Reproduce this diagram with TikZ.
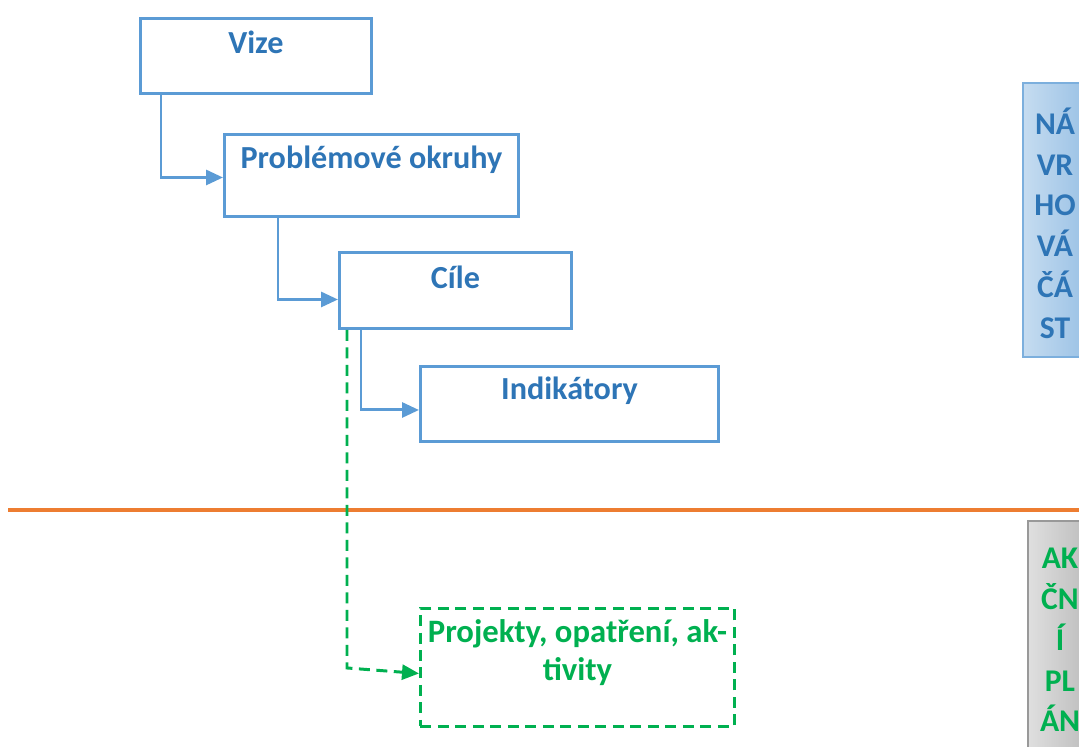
\documentclass[tikz,border=0pt]{standalone}
\usepackage{fontspec}
\setmainfont{Carlito}
\usetikzlibrary{positioning, calc, arrows.meta}
\definecolor{bordoblu}{HTML}{5B9BD5}
\definecolor{testoblu}{HTML}{2E75B6}
\definecolor{verde}{HTML}{00B050}
\definecolor{arancio}{HTML}{ED7D31}
\tikzset{
    scatola/.style={draw=bordoblu,line width=1.7pt,rectangle,anchor=north west,inner sep=0pt},
    testo/.style={font=\fontsize{18.3}{20}\selectfont\bfseries,text=testoblu},
    punta/.style={-{Triangle[length=0.34cm,width=0.3cm]}},
    freccia/.style={draw=bordoblu,line width=1.7pt,punta},
    tratt/.style={draw=verde,line width=1.7pt,dash pattern=on 0.22cm off 0.13cm},
}
\begin{document}
\begin{tikzpicture}[x=0.02cm,y=-0.02cm]
        \useasboundingbox (0,0) rectangle (1079,747);
        %disegno scatole parte proposta
        \node[scatola,minimum width=4.62cm,minimum height=1.5cm] (vize) at (139,17) {};
        \node[scatola,minimum width=5.88cm,minimum height=1.64cm] (probl) at (223,133) {};
        \node[scatola,minimum width=4.64cm,minimum height=1.52cm] (cile) at (338,251) {};
        \node[scatola,minimum width=5.96cm,minimum height=1.5cm] (indik) at (419,365) {};
        \node[testo] (vizet) at ($(vize.north)+(0,25)$) {Vize};
        \node[testo] (problt) at ($(probl.north)+(0,27)$) {Problémové okruhy};
        \node[testo] (cilet) at ($(cile.north)+(0,26)$) {Cíle};
        \node[testo] (indikt) at ($(indik.north)+(0,26)$) {Indikátory};
        %frecce
        \draw[freccia] ($(vize.south west)+(22,0)$) |- ($(probl.west)+(0,2)$);
        \draw[freccia] ($(probl.south west)+(55,0)$) |- ($(cile.west)+(0,9)$);
        \draw[freccia] ($(cile.south west)+(23,0)$) |- ($(indik.west)+(0,6)$);
        %linea di separazione
        \draw[arancio,line width=2.1pt] (8,510)-- (1079,510);
        %scatola parte azioni
        \node[scatola,tratt,draw=verde,minimum width=6.28cm,minimum height=2.36cm] (proj) at (419,607) {};
        \node[testo,text=verde,align=center,font=\fontsize{18.6}{21.6}\selectfont\bfseries] (projt) at ($(proj.north)+(0,46)$) {Projekty, opatření, ak-\\tivity};
        \draw[tratt,punta] ($(cile.south west)+(9,0)$)--++ (0,338)-- ($(proj.west)+(0,6)$);
        %barre laterali
        \draw[draw=bordoblu!80,line width=0.8pt,left color=bordoblu!35,right color=bordoblu!65] (1023,83) rectangle (1095,357);
        \node[testo,align=center,font=\fontsize{18}{23.2}\selectfont\bfseries] (navrh) at (1055,223) {NÁ\\VR\\HO\\VÁ\\ČÁ\\ST};
        \draw[draw=gray!80,line width=0.8pt,left color=gray!25,right color=gray!55] (1028,521) rectangle (1095,760);
        \node[testo,text=verde,align=center,font=\fontsize{18}{23.2}\selectfont\bfseries] (akcni) at (1060,640) {AK\\ČN\\Í\\PL\\ÁN};
\end{tikzpicture}
\end{document}
